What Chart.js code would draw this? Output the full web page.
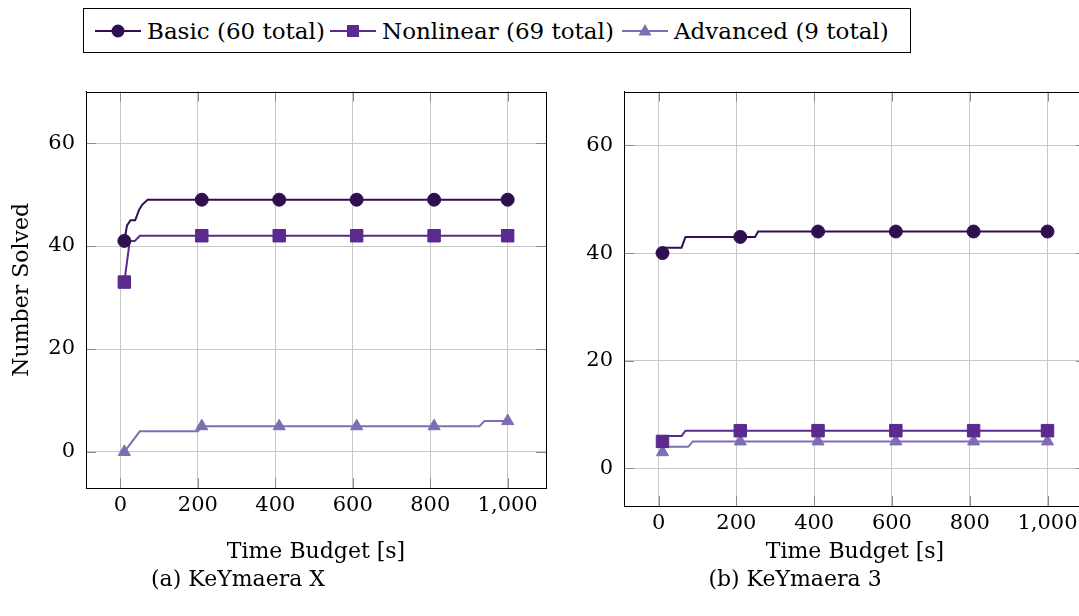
<!DOCTYPE html>
<html>
<head>
<meta charset="utf-8">
<script src="https://cdn.jsdelivr.net/npm/chart.js@4"></script>
<style>
  html, body { margin: 0; padding: 0; background: #fff; overflow: hidden; }
  body { width: 1079px; height: 616px; position: relative; font-family: "DejaVu Serif", serif; color: #000; }
  #legend { position: absolute; left: 83px; top: 8px; width: 826px; height: 43px; border: 1px solid #000; }
  .item { position: absolute; top: 0; height: 43px; display: flex; align-items: center; font-size: 23px; white-space: nowrap; }
  .item svg { margin-right: 6px; }
  .box { position: absolute; top: 68px; height: 501px; }
  .caption { position: absolute; top: 566px; font-size: 22px; transform: translateX(-50%); white-space: nowrap; }
</style>
</head>
<body>

<div id="legend"></div>

<div class="box" style="left:0; width:560px;"><canvas id="chartX"></canvas></div>
<div class="box" style="left:560px; width:540px;"><canvas id="chart3"></canvas></div>

<div class="caption" style="left:238px;">(a) KeYmaera X</div>
<div class="caption" style="left:795px;">(b) KeYmaera 3</div>

<script>
// series names + colours
var seriesNames = ['Basic (60 total)', 'Nonlinear (69 total)', 'Advanced (9 total)'];
var seriesColors = ['#2f0f4f', '#5a2a8e', '#7f6db3'];
var seriesMarkers = ['circle', 'rect', 'triangle'];
var markerSizes = [6.5, 8.8, 7];

// marks are only drawn every 200 s
var markerX = [10, 210, 410, 610, 810, 1000];

var xTicks = [0, 200, 400, 600, 800, 1000];
var xTickLabels = ['0', '200', '400', '600', '800', '1,000'];
var yTicks = [0, 20, 40, 60];
var yTickLabels = ['0', '20', '40', '60'];

// (a) KeYmaera X
var kxBasicX = [10, 17, 26, 38, 48, 56, 70, 210, 410, 610, 810, 1000];
var kxBasicY = [41, 44, 45, 45, 47, 48, 49, 49, 49, 49, 49, 49];
var kxNonlinearX = [10, 24, 37, 50, 210, 410, 610, 810, 1000];
var kxNonlinearY = [33, 41, 41, 42, 42, 42, 42, 42, 42];
var kxAdvancedX = [10, 50, 200, 210, 410, 610, 810, 927, 940, 1000];
var kxAdvancedY = [0, 4, 4, 5, 5, 5, 5, 5, 6, 6];

// (b) KeYmaera 3
var k3BasicX = [10, 11, 59, 69, 210, 248, 256, 410, 610, 810, 1000];
var k3BasicY = [40, 41, 41, 43, 43, 43, 44, 44, 44, 44, 44];
var k3NonlinearX = [10, 11, 59, 69, 210, 410, 610, 810, 1000];
var k3NonlinearY = [5, 6, 6, 7, 7, 7, 7, 7, 7];
var k3AdvancedX = [10, 11, 76, 88, 210, 410, 610, 810, 1000];
var k3AdvancedY = [3, 4, 4, 5, 5, 5, 5, 5, 5];

var xMin = -89, xMax = 1099;
var yMin = -7, yMax = 70;

var gridColor = '#c8c8c8';
var tickFont = { family: 'DejaVu Serif', size: 21 };
var titleFont = { family: 'DejaVu Serif', size: 22 };


// legend, in html
function markerSvg(i) {
    var c = seriesColors[i];
    var shape;
    if (seriesMarkers[i] == 'circle') {
        shape = '<circle cx="23" cy="11" r="6.5" fill="' + c + '"/>';
    } else if (seriesMarkers[i] == 'rect') {
        shape = '<rect x="17" y="5" width="12" height="12" fill="' + c + '"/>';
    } else {
        shape = '<polygon points="23,4 29.5,15.5 16.5,15.5" fill="' + c + '"/>';
    }
    return '<svg width="46" height="22"><line x1="0" y1="11" x2="46" y2="11" stroke="' + c + '" stroke-width="2"/>' + shape + '</svg>';
}

var legendLefts = [11, 246, 538];
var legend = document.getElementById('legend');
for (let i = 0; i < seriesNames.length; i++) {
    var item = document.createElement('div');
    item.className = 'item';
    item.style.left = legendLefts[i] + 'px';
    item.innerHTML = markerSvg(i) + '<span>' + seriesNames[i] + '</span>';
    legend.appendChild(item);
}


function points(xs, ys) {
    var out = [];
    for (let i = 0; i < xs.length; i++) {
        out.push({ x: xs[i], y: ys[i] });
    }
    return out;
}

function makeDataset(i, xs, ys) {
    return {
        label: seriesNames[i],
        data: points(xs, ys),
        borderColor: seriesColors[i],
        backgroundColor: seriesColors[i],
        borderWidth: 2,
        pointStyle: seriesMarkers[i],
        pointBorderWidth: 1,
        pointRadius: function (ctx) {
            return markerX.indexOf(ctx.raw.x) >= 0 ? markerSizes[i] : 0;
        },
        tension: 0,
        fill: false
    };
}

// full box + the short inward tick marks pgfplots draws
var framePlugin = {
    id: 'frame',
    afterDatasetsDraw: function (chart) {
        var a = chart.chartArea;
        var ctx = chart.ctx;
        ctx.save();
        ctx.strokeStyle = '#8a8a8a';
        ctx.lineWidth = 1;
        xTicks.forEach(function (v) {
            var px = Math.round(chart.scales.x.getPixelForValue(v)) + 0.5;
            ctx.beginPath();
            ctx.moveTo(px, a.bottom); ctx.lineTo(px, a.bottom - 10);
            ctx.moveTo(px, a.top); ctx.lineTo(px, a.top + 10);
            ctx.stroke();
        });
        yTicks.forEach(function (v) {
            var py = Math.round(chart.scales.y.getPixelForValue(v)) + 0.5;
            ctx.beginPath();
            ctx.moveTo(a.left, py); ctx.lineTo(a.left + 10, py);
            ctx.moveTo(a.right, py); ctx.lineTo(a.right - 10, py);
            ctx.stroke();
        });
        ctx.strokeStyle = '#000';
        ctx.strokeRect(Math.round(a.left) + 0.5, Math.round(a.top) + 0.5,
            Math.round(a.right - a.left), Math.round(a.bottom - a.top));
        ctx.restore();
    }
};

function makeChart(id, datasets, yAxisWidth, xAxisHeight, showYTitle) {
    var ctx = document.getElementById(id).getContext('2d');
    return new Chart(ctx, {
        type: 'line',
        data: { datasets: datasets },
        plugins: [framePlugin],
        options: {
            responsive: true,
            maintainAspectRatio: false,
            animation: false,
            events: [],
            layout: { padding: { top: 0, right: 14, left: 0, bottom: 0 } },
            plugins: {
                legend: { display: false },
                tooltip: { enabled: false }
            },
            scales: {
                x: {
                    type: 'linear',
                    min: xMin,
                    max: xMax,
                    afterBuildTicks: function (scale) {
                        scale.ticks = xTicks.map(function (v) { return { value: v }; });
                    },
                    afterFit: function (scale) { scale.height = xAxisHeight; },
                    ticks: {
                        autoSkip: false,
                        maxRotation: 0,
                        padding: 5,
                        color: '#000',
                        font: tickFont,
                        callback: function (v) { return xTickLabels[xTicks.indexOf(v)]; }
                    },
                    grid: { color: gridColor, drawTicks: false },
                    border: { display: true, color: '#000' },
                    title: {
                        display: true,
                        text: 'Time Budget [s]',
                        color: '#000',
                        font: titleFont,
                        padding: { top: 0, bottom: 4 }
                    }
                },
                y: {
                    min: yMin,
                    max: yMax,
                    afterBuildTicks: function (scale) {
                        scale.ticks = yTicks.map(function (v) { return { value: v }; });
                    },
                    afterFit: function (scale) { scale.width = yAxisWidth; },
                    ticks: {
                        padding: 11,
                        color: '#000',
                        font: tickFont,
                        callback: function (v) { return yTickLabels[yTicks.indexOf(v)]; }
                    },
                    grid: { color: gridColor, drawTicks: false },
                    border: { display: true, color: '#000' },
                    title: {
                        display: showYTitle,
                        text: 'Number Solved',
                        color: '#000',
                        font: titleFont,
                        padding: { top: 9, bottom: 0 }
                    }
                }
            }
        }
    });
}

makeChart('chartX', [
    makeDataset(0, kxBasicX, kxBasicY),
    makeDataset(1, kxNonlinearX, kxNonlinearY),
    makeDataset(2, kxAdvancedX, kxAdvancedY)
], 86, 81, true);

makeChart('chart3', [
    makeDataset(0, k3BasicX, k3BasicY),
    makeDataset(1, k3NonlinearX, k3NonlinearY),
    makeDataset(2, k3AdvancedX, k3AdvancedY)
], 64, 63, false);
</script>
</body>
</html>
